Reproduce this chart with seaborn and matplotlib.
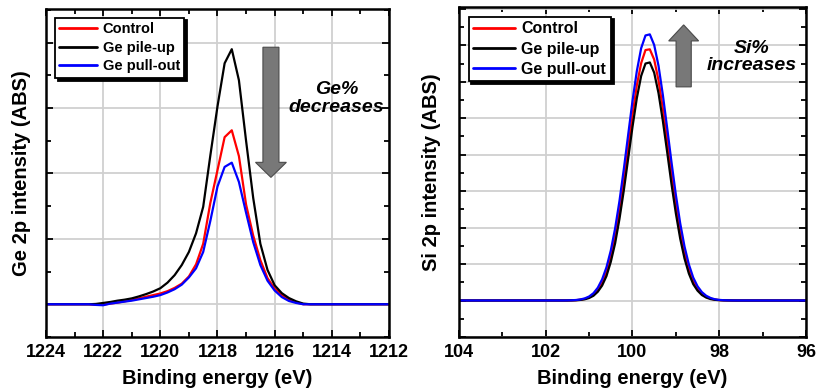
import matplotlib
matplotlib.use("Agg")
import matplotlib.pyplot as plt
from matplotlib.ticker import MultipleLocator, NullFormatter
import seaborn as sns
import pandas as pd

# -------------------------------
# Data
# -------------------------------

series_names = ["Control", "Ge pile-up", "Ge pull-out"]
series_colors = ["#ff0000", "#000000", "#0000ff"]

# Ge 2p panel
ge_energy = [1224, 1222.5, 1222.25, 1222.0, 1221.75, 1221.5, 1221.25, 1221.0,
             1220.75, 1220.5, 1220.25, 1220.0, 1219.75, 1219.5, 1219.25, 1219.0,
             1218.75, 1218.5, 1218.25, 1218.0, 1217.75, 1217.5, 1217.25, 1217.0,
             1216.75, 1216.5, 1216.25, 1216.0, 1215.75, 1215.5, 1215.25, 1215.0,
             1214.75, 1212]
ge_control = [0, 0, -0.02, -0.01, 0.02, 0.05, 0.09, 0.13,
              0.18, 0.23, 0.28, 0.33, 0.40, 0.50, 0.63, 0.85,
              1.22, 1.85, 3.10, 4.10, 5.11, 5.32, 4.53, 3.05,
              2.10, 1.35, 0.80, 0.48, 0.28, 0.14, 0.06, 0.0,
              0, 0]
ge_pileup = [0, 0, 0.01, 0.04, 0.07, 0.11, 0.14, 0.18,
             0.24, 0.31, 0.39, 0.49, 0.66, 0.89, 1.20, 1.60,
             2.17, 2.98, 4.55, 6.05, 7.37, 7.80, 6.85, 5.00,
             3.25, 1.85, 1.05, 0.58, 0.34, 0.19, 0.09, 0.02,
             0, 0]
ge_pullout = [0, 0, -0.02, -0.03, 0.02, 0.05, 0.08, 0.11,
              0.15, 0.19, 0.23, 0.28, 0.36, 0.46, 0.60, 0.82,
              1.10, 1.60, 2.55, 3.60, 4.20, 4.33, 3.74, 2.80,
              1.90, 1.20, 0.72, 0.42, 0.22, 0.10, 0.04, 0,
              0, 0]

# Si 2p panel
si_energy = [104, 101.6, 101.5, 101.4, 101.3, 101.2, 101.1, 101.0, 100.9, 100.8,
             100.7, 100.6, 100.5, 100.4, 100.3, 100.2, 100.1, 100.0, 99.9, 99.8,
             99.7, 99.6, 99.5, 99.4, 99.3, 99.2, 99.1, 99.0, 98.9, 98.8,
             98.7, 98.6, 98.5, 98.4, 98.3, 98.2, 98.1, 98.0, 97.9, 97.8,
             97.7, 97.6, 96]
si_control = [0, 0.001, 0.002, 0.005, 0.01, 0.022, 0.045, 0.087, 0.16, 0.29,
              0.49, 0.78, 1.20, 1.77, 2.47, 3.29, 4.19, 5.09, 5.90, 6.51,
              6.87, 6.89, 6.61, 6.04, 5.27, 4.38, 3.47, 2.63, 1.90, 1.31,
              0.86, 0.54, 0.32, 0.18, 0.10, 0.05, 0.026, 0.012, 0.006, 0.003,
              0.001, 0, 0]
si_pileup = [0, 0.001, 0.001, 0.003, 0.007, 0.016, 0.034, 0.068, 0.13, 0.24,
             0.41, 0.67, 1.06, 1.57, 2.24, 3.02, 3.89, 4.76, 5.55, 6.16,
             6.50, 6.53, 6.25, 5.69, 4.93, 4.07, 3.19, 2.39, 1.70, 1.15,
             0.74, 0.45, 0.27, 0.15, 0.08, 0.04, 0.019, 0.009, 0.004, 0.002,
             0.001, 0, 0]
si_pullout = [0, 0.001, 0.003, 0.007, 0.014, 0.03, 0.058, 0.11, 0.20, 0.35,
              0.58, 0.91, 1.37, 1.98, 2.73, 3.60, 4.54, 5.47, 6.29, 6.92,
              7.27, 7.30, 7.01, 6.44, 5.64, 4.73, 3.79, 2.90, 2.12, 1.48,
              0.99, 0.63, 0.39, 0.23, 0.13, 0.07, 0.034, 0.017, 0.008, 0.004,
              0.002, 0.001, 0]

ge_df = pd.DataFrame({"Control": ge_control, "Ge pile-up": ge_pileup,
                      "Ge pull-out": ge_pullout}, index=ge_energy)
si_df = pd.DataFrame({"Control": si_control, "Ge pile-up": si_pileup,
                      "Ge pull-out": si_pullout}, index=si_energy)

# -------------------------------
# Style
# -------------------------------

sns.set_style("ticks")
plt.rcParams["font.family"] = ["Liberation Sans", "DejaVu Sans"]
plt.rcParams["font.weight"] = "bold"
plt.rcParams["text.color"] = "black"
plt.rcParams["axes.labelcolor"] = "black"
plt.rcParams["xtick.color"] = "black"
plt.rcParams["ytick.color"] = "black"

fig = plt.figure(figsize=(8.17, 3.9), dpi=100)
ax1 = fig.add_axes([0.0563, 0.136, 0.4198, 0.841])
ax2 = fig.add_axes([0.5618, 0.136, 0.4247, 0.846])


def draw_panel(ax, df, legend_size):
    for name, color in zip(series_names, series_colors):
        sns.lineplot(x=df.index, y=df[name], color=color, label=name,
                     linewidth=1.6, ax=ax)
    ax.grid(True, which="major", color="#d0d0d0", linewidth=1.3)
    ax.set_axisbelow(True)
    for spine in ax.spines.values():
        spine.set_visible(True)
        spine.set_linewidth(1.8)
        spine.set_color("black")
    ax.tick_params(which="both", direction="in", top=True, right=True,
                   width=1.3, labelsize=13, pad=5, colors="black")
    ax.tick_params(which="major", length=5)
    ax.tick_params(which="minor", length=3.5)
    ax.yaxis.set_major_formatter(NullFormatter())
    for lab in ax.get_xticklabels():
        lab.set_fontweight("bold")
    ax.set_xlabel("Binding energy (eV)", fontsize=14.5, fontweight="bold",
                  labelpad=6, color="black")
    leg = ax.legend(loc="upper left", frameon=True, fancybox=False,
                    shadow={"color": "black", "alpha": 1},
                    prop={"weight": "bold", "size": legend_size},
                    handlelength=2.6, handletextpad=0.4, labelspacing=0.32,
                    borderpad=0.3, borderaxespad=0.6)
    leg.get_frame().set_edgecolor("black")
    leg.get_frame().set_linewidth(1.3)
    leg.get_frame().set_alpha(1)
    for text in leg.get_texts():
        text.set_color("black")
    for line in leg.get_lines():
        line.set_linewidth(2)


# Ge 2p
draw_panel(ax1, ge_df, 10.5)
ax1.set_xlim(1224, 1212)
ax1.set_ylim(-1, 9.03)
ax1.xaxis.set_major_locator(MultipleLocator(2))
ax1.xaxis.set_minor_locator(MultipleLocator(1))
ax1.yaxis.set_major_locator(MultipleLocator(2))
ax1.yaxis.set_minor_locator(MultipleLocator(1))
ax1.set_ylabel("Ge 2p intensity (ABS)", fontsize=14.5, fontweight="bold",
               labelpad=6, color="black")
ax1.arrow(1216.13, 7.86, 0, -3.98 + 0.46, width=0.56, head_width=1.08,
          head_length=0.46, length_includes_head=False,
          facecolor="#787878", edgecolor="#4a4a4a", linewidth=0.8, zorder=5)
ax1.text(1213.83, 6.3, "Ge%\ndecreases", ha="center", va="center",
         fontsize=14, fontweight="bold", fontstyle="italic", linespacing=1.05)

# Si 2p
draw_panel(ax2, si_df, 11.5)
ax2.set_xlim(104, 96)
ax2.set_ylim(-1, 8.05)
ax2.xaxis.set_major_locator(MultipleLocator(2))
ax2.xaxis.set_minor_locator(MultipleLocator(1))
ax2.yaxis.set_major_locator(MultipleLocator(1))
ax2.yaxis.set_minor_locator(MultipleLocator(0.5))
ax2.set_ylabel("Si 2p intensity (ABS)", fontsize=14.5, fontweight="bold",
               labelpad=8, color="black")
ax2.arrow(98.82, 5.86, 0, 7.56 - 5.86 - 0.44, width=0.35, head_width=0.69,
          head_length=0.44, length_includes_head=False,
          facecolor="#787878", edgecolor="#4a4a4a", linewidth=0.8, zorder=5)
ax2.text(97.25, 6.68, "Si%\nincreases", ha="center", va="center",
         fontsize=14, fontweight="bold", fontstyle="italic", linespacing=1.05)

plt.savefig("out.png", dpi=100)
